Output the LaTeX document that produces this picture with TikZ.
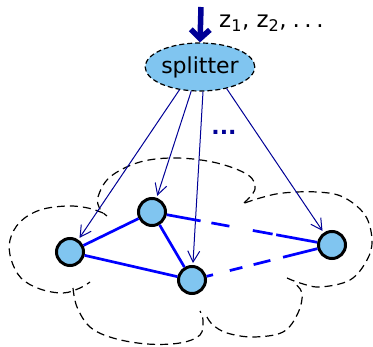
\documentclass[tikz,border=0pt]{standalone}
\usepackage{fontspec}
\setmainfont{DejaVu Sans}
\usetikzlibrary{shapes.geometric,arrows.meta,calc}
\definecolor{nodefill}{RGB}{128,197,240}
\definecolor{navyc}{RGB}{0,0,150}
\definecolor{edgeblue}{RGB}{0,0,255}
\tikzset{
  vertex/.style={circle,draw=black,line width=3pt,fill=nodefill,minimum size=27pt,inner sep=0pt},
  splitbox/.style={ellipse,draw=black,line width=1.2pt,dash pattern=on 5pt off 3pt,fill=nodefill,minimum width=90pt,minimum height=48pt,inner sep=0pt,font=\fontsize{22}{26}\selectfont},
  feed/.style={draw=navyc,line width=1pt,-{Straight Barb[length=11pt,width=12pt]},shorten >=2pt},
  edge/.style={draw=edgeblue,line width=2.7pt},
  puff/.style={draw=black,line width=1.2pt,dash pattern=on 8pt off 5pt},
}
\begin{document}
\begin{tikzpicture}[x=1pt,y=-1pt]
\useasboundingbox (0,0) rectangle (373,347);
% cloud
\draw[puff] plot[smooth,tension=0.6] coordinates {(244,203) (255,189) (248,175) (217,163) (177,158) (140,162) (110,177) (98,197) (100,209) (107,216)};
\draw[puff] plot[smooth,tension=0.6] coordinates {(103,213) (88,208) (67,206) (40,210) (20,222) (10,240) (11,259) (21,278) (40,289) (63,293) (80,288) (90,282)};
\draw[puff] plot[smooth,tension=0.6] coordinates {(73,288) (77,307) (90,327) (113,338) (147,344) (180,343) (200,335) (203,320) (200,311)};
\draw[puff] plot[smooth,tension=0.6] coordinates {(207,317) (213,325) (227,333) (253,337) (283,332) (298,313) (302,293) (293,282)};
\draw[puff] plot[smooth,tension=0.6] coordinates {(287,278) (300,283) (320,287) (350,280) (367,260) (372,240) (365,215) (343,197) (317,192) (283,193) (260,198) (242,204)};
% nodes
\node[splitbox] (S) at (200,67) {splitter};
\node[vertex] (A) at (70,252) {};
\node[vertex] (B) at (152,212) {};
\node[vertex] (C) at (192,280) {};
\node[vertex] (D) at (332,245) {};
% input arrow
\coordinate (in) at (201,7);
\draw[draw=navyc,line width=5.5pt,-{Straight Barb[length=9pt,width=19pt]}] (in) -- (S.north);
\node[anchor=base west,inner sep=0pt,font=\fontsize{23}{26}\selectfont] (lab) at (219,28) {z\textsubscript{1}, z\textsubscript{2},\hspace{0.25em}.\hspace{0.2em}.\hspace{0.2em}.};
\node[anchor=base,inner sep=0pt,text=navyc,font=\fontsize{22}{26}\selectfont\bfseries] (dots) at (224,135) {...};
% feeds
\draw[feed] (S.228) -- (A);
\draw[feed] (S.250) -- (B);
\draw[feed] (S.277) -- (C);
\draw[feed] (S.321) -- (D);
% edges
\draw[edge] (A) -- (B);
\draw[edge] (A) -- (C);
\draw[edge] (B) -- (C);
\draw[edge] (B) -- ($(B)!.27!(D)$) ($(B)!.33!(D)$) -- ($(B)!.43!(D)$) ($(B)!.56!(D)$) -- ($(B)!.67!(D)$) ($(B)!.69!(D)$) -- (D);
\draw[edge] (C) -- ($(C)!.15!(D)$) ($(C)!.27!(D)$) -- ($(C)!.36!(D)$) ($(C)!.44!(D)$) -- ($(C)!.56!(D)$) ($(C)!.65!(D)$) -- (D);
\end{tikzpicture}
\end{document}
